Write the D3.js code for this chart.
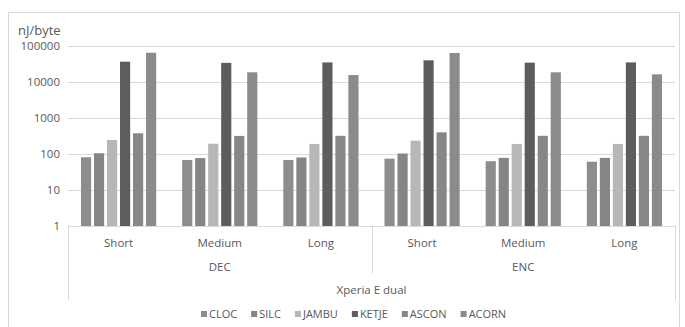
<!DOCTYPE html>
<html>
<head>
<meta charset="utf-8">
<script src="https://cdn.jsdelivr.net/npm/d3@7"></script>
<style>
  html, body { margin: 0; padding: 0; background: #fff; }
  svg { display: block; font-family: "Open Sans", sans-serif; }
</style>
</head>
<body>
<svg id="chart" width="685" height="327"></svg>
<script>
// ---- data ----
const subCategories = ["Short", "Medium", "Long"];
const groups = ["DEC", "ENC"];
const device = "Xperia E dual";
const seriesNames = ["CLOC", "SILC", "JAMBU", "KETJE", "ASCON", "ACORN"];
const CLOC  = [81, 68, 68, 74, 63, 61];
const SILC  = [105, 77, 80, 103, 78, 78];
const JAMBU = [245, 193, 190, 235, 190, 190];
const KETJE = [36600, 34000, 35000, 40000, 34500, 35000];
const ASCON = [376, 318, 320, 400, 320, 320];
const ACORN = [65000, 18600, 15600, 64000, 18600, 16300];
const yTicks = [1, 10, 100, 1000, 10000, 100000];
const yTitle = "nJ/byte";

// ---- styles ----
const colors = { CLOC: "#8d8d8d", SILC: "#858585", JAMBU: "#b7b7b7", KETJE: "#5d5d5d", ASCON: "#878787", ACORN: "#8b8b8b" };
const textColor = "#595959";
const lineColor = "#d9d9d9";

const seriesValues = { CLOC, SILC, JAMBU, KETJE, ASCON, ACORN };
const cats = [];
groups.forEach(g => subCategories.forEach(s => cats.push(g + "|" + s)));

const svg = d3.select("#chart");
const pLeft = 68, pRight = 675, pTop = 46, pBottom = 226;

// chart border
svg.append("rect").attr("x", 8.5).attr("y", 12.5).attr("width", 671).attr("height", 320)
  .attr("fill", "none").attr("stroke", lineColor);

const x0 = d3.scaleBand().domain(cats).range([pLeft, pRight]).paddingInner(0.2).paddingOuter(0.1);
const x1 = d3.scaleBand().domain(seriesNames).range([0, x0.bandwidth()]).padding(0.22);
const y = d3.scaleLog().domain([1, 100000]).range([pBottom, pTop]);

// gridlines
svg.append("g").selectAll("line").data(yTicks.slice(1)).join("line")
  .attr("x1", pLeft).attr("x2", pRight)
  .attr("y1", d => Math.round(y(d)) + 0.5).attr("y2", d => Math.round(y(d)) + 0.5)
  .attr("stroke", lineColor).attr("stroke-width", 1);

// y axis labels
const yAxis = d3.axisLeft(y).tickValues(yTicks).tickFormat(d3.format("d")).tickSize(0).tickPadding(8);
const ya = svg.append("g").attr("transform", `translate(${pLeft},0)`).call(yAxis);
ya.select(".domain").remove();
ya.selectAll("text").attr("fill", textColor).style("font-size", "11.5px").style("font-family", "Open Sans");

// y title
svg.append("text").attr("x", 18).attr("y", 35).text(yTitle)
  .attr("fill", textColor).style("font-size", "13px");

// bars
const barData = [];
cats.forEach((c, i) => seriesNames.forEach(s => barData.push({ c, s, v: seriesValues[s][i] })));
svg.append("g").selectAll("rect").data(barData).join("rect")
  .attr("x", d => x0(d.c) + x1(d.s))
  .attr("width", x1.bandwidth())
  .attr("y", d => y(d.v))
  .attr("height", d => pBottom - y(d.v))
  .attr("fill", d => colors[d.s]);

// category axis line
svg.append("line").attr("x1", pLeft).attr("x2", pRight).attr("y1", pBottom + 0.5).attr("y2", pBottom + 0.5)
  .attr("stroke", lineColor);

// level separators
const step = x0.step();
[pLeft, pRight].forEach(xv => {
  svg.append("line").attr("x1", xv + 0.5).attr("x2", xv + 0.5).attr("y1", pBottom).attr("y2", 300)
    .attr("stroke", lineColor);
});
const mid = x0(groups[1] + "|" + subCategories[0]) - x0.paddingInner() * step / 2;
svg.append("line").attr("x1", Math.round(mid) + 0.5).attr("x2", Math.round(mid) + 0.5)
  .attr("y1", pBottom).attr("y2", 273).attr("stroke", lineColor);

// sub category labels
svg.append("g").selectAll("text").data(cats).join("text")
  .attr("x", d => x0(d) + x0.bandwidth() / 2).attr("y", 247)
  .attr("text-anchor", "middle").attr("fill", textColor).style("font-size", "11.5px")
  .text(d => d.split("|")[1]);

// group labels
svg.append("g").selectAll("text").data(groups).join("text")
  .attr("x", g => {
    const a = x0(g + "|" + subCategories[0]);
    const b = x0(g + "|" + subCategories[subCategories.length - 1]) + x0.bandwidth();
    return (a + b) / 2;
  })
  .attr("y", 271).attr("text-anchor", "middle").attr("fill", textColor).style("font-size", "11.5px")
  .text(d => d);

// device label
svg.append("text").attr("x", (pLeft + pRight) / 2).attr("y", 294).attr("text-anchor", "middle")
  .attr("fill", textColor).style("font-size", "11.5px").text(device);

// legend
const legend = svg.append("g");
let lx = 201;
seriesNames.forEach(s => {
  legend.append("rect").attr("x", lx).attr("y", 311).attr("width", 6).attr("height", 6).attr("fill", colors[s]);
  const t = legend.append("text").attr("x", lx + 8).attr("y", 318).attr("fill", textColor)
    .style("font-size", "11px").text(s);
  lx += 8 + t.node().getComputedTextLength() + 14;
});
</script>
</body>
</html>
